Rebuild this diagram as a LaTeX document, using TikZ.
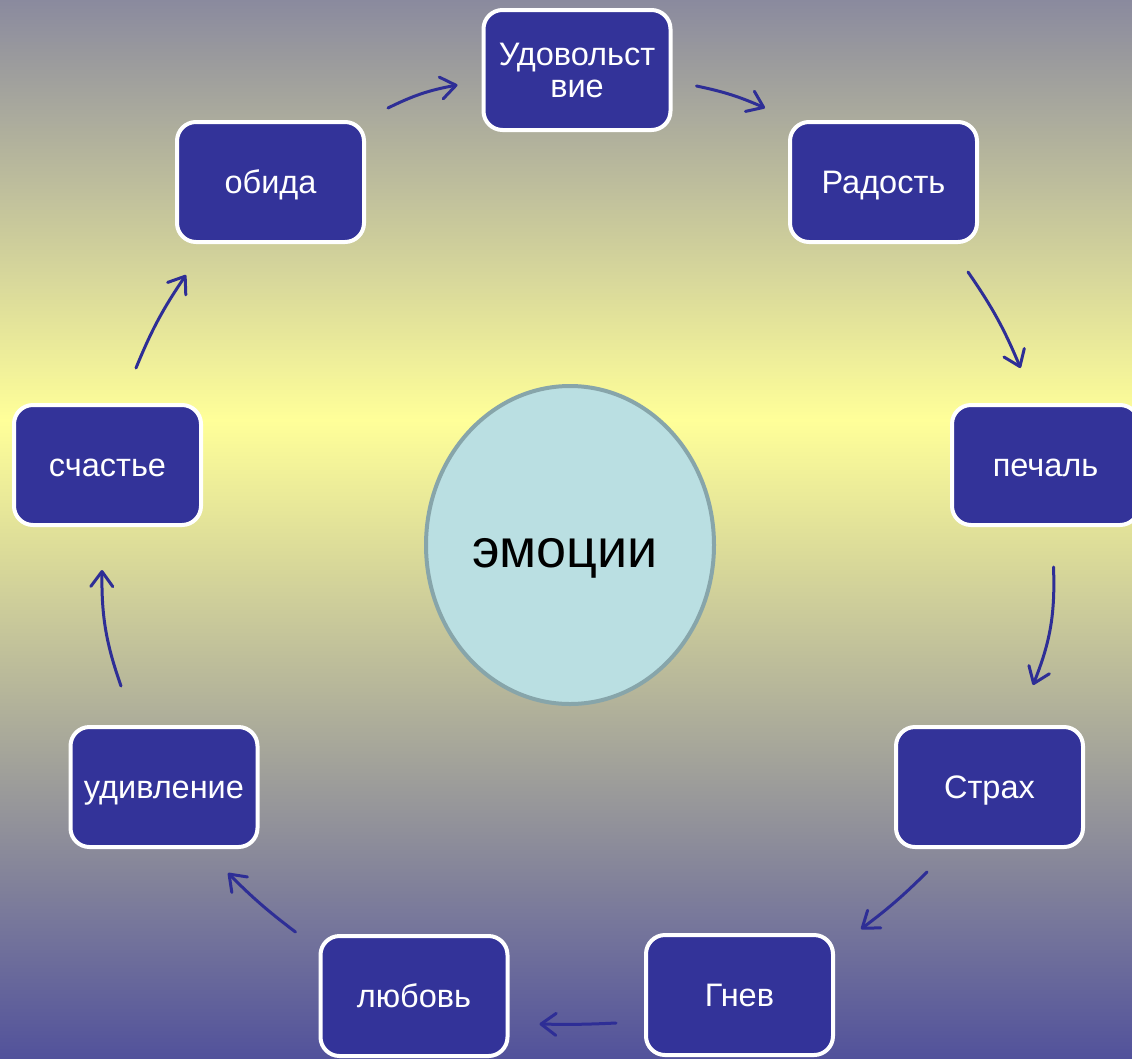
\documentclass[tikz,border=0pt]{standalone}
\usepackage{fontspec}
\setmainfont{Liberation Sans}
\usetikzlibrary{arrows.meta,shapes.geometric,calc}
\definecolor{bgtop}{RGB}{138,138,158}
\definecolor{bgyel}{RGB}{255,255,153}
\definecolor{bgbot}{RGB}{82,82,155}
\definecolor{boxfill}{RGB}{51,51,153}
\definecolor{arrcol}{RGB}{46,46,150}
\definecolor{ellfill}{RGB}{186,223,226}
\definecolor{elldraw}{RGB}{135,165,170}
\pgfdeclareverticalshading{bgshade}{100bp}{color(0bp)=(bgbot); color(25bp)=(bgbot); color(55.15bp)=(bgyel); color(75bp)=(bgtop); color(100bp)=(bgtop)}
\tikzset{
  emobox/.style={draw=white, fill=boxfill, line width=4pt, rounded corners=19pt,
    minimum width=187pt, minimum height=120pt, inner sep=0pt, text=white,
    align=center, font=\fontsize{32.5}{32}\selectfont},
  oneline/.style={text height=23pt, text depth=0pt},
  arr/.style={draw=arrcol, line width=3pt, line cap=round,
    -{Straight Barb[length=15pt,width=22pt,line cap=round,line join=round]}},
}
\begin{document}
\begin{tikzpicture}[x=1pt,y=-1pt]
\useasboundingbox (0,0) rectangle (1132,1058);
\clip (0,0) rectangle (1132,1058);
\shade[shading=bgshade] (0,0) rectangle (1132,1058);

\node[emobox] (udov) at (577,70) {Удовольст\\вие};
\node[emobox, oneline] (rad) at (883.5,182) {Радость};
\node[emobox, oneline] (pech) at (1045.5,465) {печаль};
\node[emobox, oneline] (strah) at (989.5,787) {Страх};
\node[emobox, oneline] (gnev) at (739.5,995) {Гнев};
\node[emobox, oneline] (lub) at (414,996) {любовь};
\node[emobox, oneline] (udiv) at (164,787) {удивление};
\node[emobox, oneline] (sch) at (107.5,465) {счастье};
\node[emobox, oneline] (obida) at (270.5,182) {обида};

\node[ellipse, draw=elldraw, fill=ellfill, line width=4pt, minimum width=288pt,
  minimum height=318pt, inner sep=0pt, text height=44pt, text depth=0pt,
  font=\fontsize{54}{60}\selectfont] (emo) at (570,545) {эмоции\kern10pt};

\draw[arr] ($(obida.north east)+(22,-12)$) to[bend left=8] ($(udov.west)+(-24,15)$);
\draw[arr] ($(udov.east)+(24,16)$) to[bend left=6] ($(rad.north west)+(-23,-12)$);
\draw[arr] ($(rad.south east)+(-11,28)$) to[bend left=6] ($(pech.north)+(-25,-35)$);
\draw[arr] ($(pech.south)+(8,40)$) to[bend left=12] ($(strah.north)+(43.5,-40)$);
\draw[arr] ($(strah.south)+(-62.5,23)$) to[bend left=4] ($(gnev.north east)+(26,-4)$);
\draw[arr] ($(gnev.west)+(-28,28)$) to[bend left=2] ($(lub.east)+(30,28)$);
\draw[arr] ($(lub.north west)+(-23,-2)$) to[bend left=4] ($(udiv.south)+(64,24)$);
\draw[arr] ($(udiv.north)+(-43,-39)$) to[bend left=10] ($(sch.south)+(-5.5,43)$);
\draw[arr] ($(sch.north)+(28.5,-35)$) to[bend left=6] ($(obida.south)+(-84.5,31)$);
\end{tikzpicture}
\end{document}
